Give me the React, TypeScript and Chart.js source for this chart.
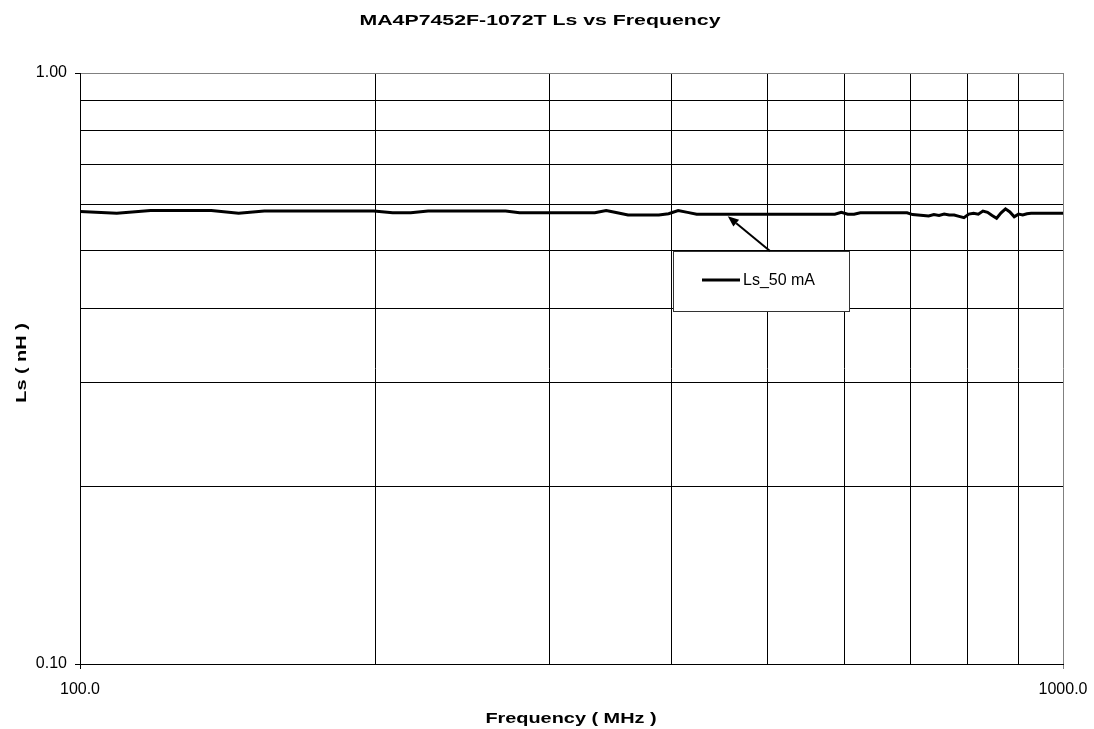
import React, { useEffect, useRef } from "react";
import { Chart, registerables } from "chart.js";

Chart.register(...registerables);

const chartTitle = "MA4P7452F-1072T Ls vs Frequency";
const xAxisTitle = "Frequency ( MHz )";
const yAxisTitle = "Ls ( nH )";
const seriesLabel = "Ls_50 mA";

const frequencies = [
  100, 109, 118, 127, 136, 145, 154, 163, 172, 181,
  190, 199, 208, 217, 226, 235, 244, 253, 262, 271,
  280, 289, 298, 307, 316, 325, 334, 343, 352, 361,
  370, 379, 388, 397, 406, 415, 424, 433, 442, 451,
  460, 469, 478, 487, 496, 505, 514, 523, 532, 541,
  550, 559, 568, 577, 586, 595, 604, 613, 622, 631,
  640, 649, 658, 667, 676, 685, 694, 703, 712, 721,
  730, 739, 748, 757, 766, 775, 784, 793, 802, 811,
  820, 829, 838, 847, 856, 865, 874, 883, 892, 901,
  910, 919, 928, 937, 946, 955, 964, 973, 982, 991,
  1000,
];

const lsValues = [
  0.583, 0.579, 0.585, 0.585, 0.585, 0.579, 0.584, 0.584, 0.584, 0.584,
  0.584, 0.584, 0.580, 0.580, 0.584, 0.584, 0.584, 0.584, 0.584, 0.584,
  0.580, 0.580, 0.580, 0.580, 0.580, 0.580, 0.580, 0.585, 0.580, 0.575,
  0.575, 0.575, 0.575, 0.578, 0.585, 0.581, 0.577, 0.577, 0.577, 0.577,
  0.577, 0.577, 0.577, 0.577, 0.577, 0.577, 0.577, 0.577, 0.577, 0.577,
  0.577, 0.577, 0.577, 0.577, 0.577, 0.581, 0.577, 0.577, 0.580, 0.580,
  0.580, 0.580, 0.580, 0.580, 0.580, 0.580, 0.580, 0.576, 0.575, 0.574,
  0.573, 0.576, 0.574, 0.577, 0.575, 0.575, 0.572, 0.569, 0.577, 0.579,
  0.577, 0.584, 0.581, 0.574, 0.568, 0.580, 0.589, 0.582, 0.571, 0.577,
  0.575, 0.578, 0.579, 0.579, 0.579, 0.579, 0.579, 0.579, 0.579, 0.579,
  0.579,
];

const xTicks = [100, 200, 300, 400, 500, 600, 700, 800, 900, 1000];
const yTicks = [0.1, 0.2, 0.3, 0.4, 0.5, 0.6, 0.7, 0.8, 0.9, 1.0];
const xLabeled = [100, 1000];
const yLabeled = [0.1, 1.0];
const arrowTarget = { x: 456, y: 0.577 };

const FONT = "'Liberation Sans', Arial, Helvetica, sans-serif";
const BOLD_STRETCH = 1.42;

function stretchedText(ctx: any, text: string, x: number, y: number, rot: number) {
  ctx.save();
  ctx.translate(x, y);
  if (rot) ctx.rotate(rot);
  ctx.scale(BOLD_STRETCH, 1);
  ctx.textAlign = "center";
  ctx.textBaseline = "middle";
  ctx.fillText(text, 0, 0);
  ctx.restore();
}

const annotationPlugin = {
  id: "annotations",
  afterDraw(chart: any) {
    const { ctx, scales } = chart;
    ctx.save();

    ctx.fillStyle = "#000";
    ctx.font = `bold 15px ${FONT}`;
    stretchedText(ctx, chartTitle, 540, 21, 0);

    ctx.font = `bold 14px ${FONT}`;
    stretchedText(ctx, xAxisTitle, 571, 719, 0);
    stretchedText(ctx, yAxisTitle, 22, 363, -Math.PI / 2);

    // Legend box
    const bx = 673, by = 251, bw = 176, bh = 60;
    ctx.fillStyle = "#fff";
    ctx.fillRect(bx, by, bw, bh);
    ctx.strokeStyle = "#333";
    ctx.lineWidth = 1;
    ctx.strokeRect(bx + 0.5, by + 0.5, bw, bh);

    ctx.strokeStyle = "#000";
    ctx.lineWidth = 3;
    ctx.beginPath();
    ctx.moveTo(702, 280);
    ctx.lineTo(740, 280);
    ctx.stroke();

    ctx.fillStyle = "#000";
    ctx.textAlign = "left";
    ctx.textBaseline = "middle";
    ctx.font = `16px ${FONT}`;
    ctx.fillText(seriesLabel, 743, 281);

    // Arrow from legend to the line
    const tx = scales.x.getPixelForValue(arrowTarget.x);
    const ty = scales.y.getPixelForValue(arrowTarget.y) + 2;
    const sx = 770, sy = 251;
    const ang = Math.atan2(ty - sy, tx - sx);
    const headLen = 11, headW = 4.5;
    const hx = tx - headLen * Math.cos(ang);
    const hy = ty - headLen * Math.sin(ang);
    ctx.strokeStyle = "#000";
    ctx.lineWidth = 2;
    ctx.beginPath();
    ctx.moveTo(sx, sy);
    ctx.lineTo(hx, hy);
    ctx.stroke();
    ctx.beginPath();
    ctx.moveTo(tx, ty);
    ctx.lineTo(hx + headW * Math.sin(ang), hy - headW * Math.cos(ang));
    ctx.lineTo(hx - headW * Math.sin(ang), hy + headW * Math.cos(ang));
    ctx.closePath();
    ctx.fill();

    ctx.restore();
  },
};

export default function App() {
  const canvasRef = useRef<HTMLCanvasElement | null>(null);

  useEffect(() => {
    const canvas = canvasRef.current;
    if (!canvas) return;
    const points = frequencies.map((f, i) => ({ x: f, y: lsValues[i] }));
    const chart = new Chart(canvas, {
      type: "line",
      data: {
        datasets: [
          {
            label: seriesLabel,
            data: points,
            borderColor: "#000",
            borderWidth: 3,
            pointRadius: 0,
            tension: 0,
            fill: false,
          },
        ],
      },
      options: {
        animation: false,
        responsive: false,
        maintainAspectRatio: false,
        layout: { padding: { left: 0, right: 31, top: 73, bottom: 0 } },
        plugins: {
          legend: { display: false },
          title: { display: false },
          tooltip: { enabled: false },
        },
        scales: {
          x: {
            type: "logarithmic",
            min: 100,
            max: 1000,
            afterBuildTicks: (s: any) => {
              s.ticks = xTicks.map((v) => ({ value: v }));
            },
            afterFit: (s: any) => {
              s.height = 65;
            },
            ticks: {
              autoSkip: false,
              maxRotation: 0,
              minRotation: 0,
              padding: 6,
              color: "#000",
              font: { family: FONT, size: 16, lineHeight: 1.8 },
              callback: (v: any) => (xLabeled.includes(Number(v)) ? Number(v).toFixed(1) : ""),
            },
            grid: {
              lineWidth: 1,
              tickLength: 5,
              color: (c: any) => (c.tick && c.tick.value === 1000 ? "#808080" : "#000"),
              tickColor: (c: any) =>
                c.tick && xLabeled.includes(c.tick.value)
                  ? c.tick.value === 1000
                    ? "#808080"
                    : "#000"
                  : "rgba(0,0,0,0)",
            },
            border: { display: true, color: "#000", width: 1 },
          },
          y: {
            type: "logarithmic",
            min: 0.1,
            max: 1.0,
            afterBuildTicks: (s: any) => {
              s.ticks = yTicks.map((v) => ({ value: v }));
            },
            afterFit: (s: any) => {
              s.width = 80;
            },
            ticks: {
              autoSkip: false,
              padding: 8,
              color: "#000",
              font: { family: FONT, size: 16 },
              callback: (v: any) => (yLabeled.includes(Number(v)) ? Number(v).toFixed(2) : ""),
            },
            grid: {
              lineWidth: 1,
              tickLength: 5,
              color: (c: any) => (c.tick && c.tick.value === 1.0 ? "#808080" : "#000"),
              tickColor: (c: any) =>
                c.tick && yLabeled.includes(c.tick.value) ? "#000" : "rgba(0,0,0,0)",
            },
            border: { display: true, color: "#000", width: 1 },
          },
        },
      },
      plugins: [annotationPlugin],
    });
    return () => chart.destroy();
  }, []);

  return (
    <div style={{ position: "absolute", left: 0, top: 0, width: 1094, height: 729, background: "#fff" }}>
      <canvas ref={canvasRef} width={1094} height={729} style={{ display: "block" }} />
    </div>
  );
}
